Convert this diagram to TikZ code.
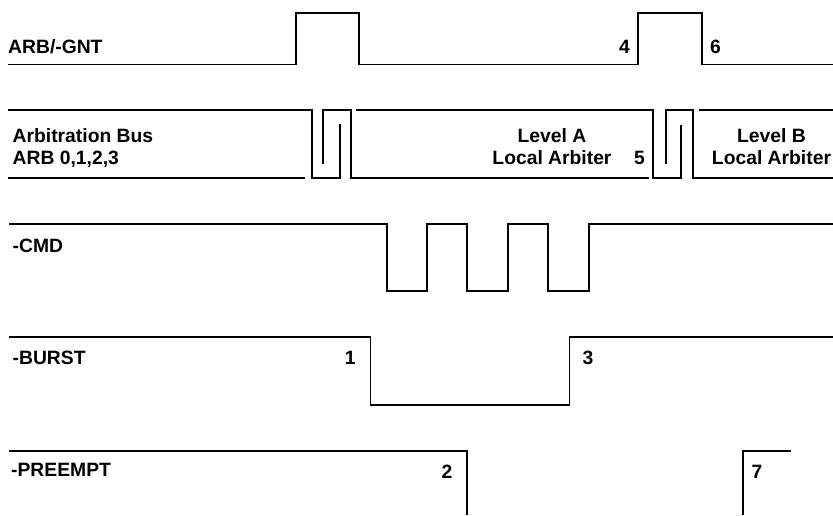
\documentclass[tikz,border=0pt]{standalone}
\usepackage{fontspec}
\setmainfont{Liberation Sans}
\begin{document}
\begin{tikzpicture}[x=1pt,y=-1pt]
\tikzset{
  sig/.style={line width=1.7pt, line join=miter, line cap=butt},
  lbl/.style={inner sep=0pt, anchor=base west, font=\fontsize{19.3}{22}\selectfont\bfseries},
  lblr/.style={lbl, anchor=base east},
  lblc/.style={lbl, anchor=base}
}
\useasboundingbox (0,0) rectangle (833,515);

% ARB/-GNT
\draw[sig] (8,64.5) -- (295.7,64.5) -- (295.7,12.7) -- (359,12.7) -- (359,64.5)
  -- (638.3,64.5) -- (638.3,12.7) -- (701.7,12.7) -- (701.7,64.5) -- (833,64.5);
\node[lbl] (gnt) at (8,53) {ARB/-GNT};
\node[lblr] (n4) at (630,53) {4};
\node[lbl] (n6) at (710,53) {6};

% Arbitration bus
\draw[sig] (8,110) -- (312,110) -- (312,178) -- (340,178) -- (340,124);
\draw[sig] (8,178) -- (305,178);
\draw[sig] (323,164) -- (323,110) -- (351,110) -- (351,178) -- (649,178);
\draw[sig] (356,110) -- (653,110) -- (653,178) -- (681,178) -- (681,125);
\draw[sig] (666,164) -- (666,110) -- (693,110) -- (693,178) -- (833,178);
\draw[sig] (699,110) -- (833,110);
\node[lbl] (ab1) at (12.5,142) {Arbitration Bus};
\node[lbl] (ab2) at (12.5,164) {ARB 0,1,2,3};
\node[lblc] (la1) at (552,142) {Level A};
\node[lblc] (la2) at (552,164) {Local Arbiter};
\node[lbl] (n5) at (634,164) {5};
\node[lblc] (lb1) at (771.5,142) {Level B};
\node[lblc] (lb2) at (771.5,164) {Local Arbiter};

% -CMD
\draw[sig] (9,224) -- (386.7,224) -- (386.7,291) -- (427.3,291) -- (427.3,224)
  -- (467.3,224) -- (467.3,291) -- (508.3,291) -- (508.3,224)
  -- (548.3,224) -- (548.3,291) -- (588.7,291) -- (588.7,224) -- (833,224);
\node[lbl] (cmd) at (12.5,252.7) {-CMD};

% -BURST
\draw[sig] (9,337) -- (370.5,337) -- (370.5,405) -- (569.5,405) -- (569.5,337) -- (833,337);
\node[lbl] (burst) at (12.5,364) {-BURST};
\node[lblr] (n1) at (355.8,364) {1};
\node[lbl] (n3) at (582.3,364) {3};

% -PREEMPT
\draw[sig] (9,451) -- (466.7,451) -- (466.7,515);
\draw[sig] (742.7,515) -- (742.7,451) -- (791,451);
\node[lbl] (pre) at (11,476.5) {-PREEMPT};
\node[lblr] (n2) at (452.5,478) {2};
\node[lbl] (n7) at (751.5,478) {7};
\end{tikzpicture}
\end{document}
